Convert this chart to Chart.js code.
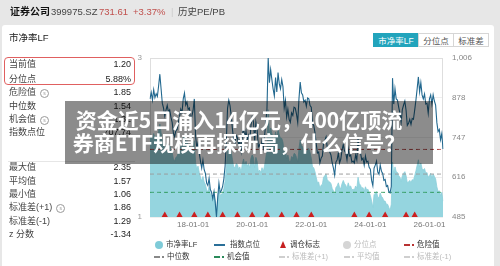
<!DOCTYPE html>
<html><head><meta charset="utf-8">
<script src="https://cdn.jsdelivr.net/npm/chart.js@4.4.1/dist/chart.umd.min.js"></script>
<style>
html,body{margin:0;padding:0;width:500px;height:266px;overflow:hidden;background:#e7e7e7;font-family:"Liberation Sans","Noto Sans CJK SC",sans-serif;}
#card{position:absolute;left:2px;top:25px;width:492px;height:245px;background:#fff;border-radius:3px;}
#cv{position:absolute;left:0;top:0;}
.a{position:absolute;white-space:nowrap;}
.hd{top:5px;font-size:9.5px;line-height:14px;color:#444;}
.row{position:absolute;left:9px;width:122px;height:13px;font-size:9px;line-height:13px;color:#444;}
.row .v{position:absolute;right:0;top:0;color:#222;}
.ic{display:inline-block;width:7px;height:7px;border:1px solid #999;border-radius:50%;font-size:5px;line-height:7px;text-align:center;color:#999;margin-left:4px;vertical-align:0px;}
.btn{position:absolute;top:33px;height:14px;font-size:8.5px;line-height:14px;text-align:center;color:#555;border:1px solid #d6d6d6;box-sizing:border-box;background:#fff;}
.lg{position:absolute;font-size:7.5px;line-height:10px;white-space:nowrap;color:#333;}
.lg.off{color:#bbb;}
</style></head>
<body>
<div id="card"></div>
<canvas id="cv" width="500" height="266"></canvas>

<div class="a hd" style="left:10px;color:#111;font-weight:bold;font-size:10px;">证券公司</div>
<div class="a hd" style="left:51px;">399975.SZ</div>
<div class="a hd" style="left:99px;color:#c0504d;">731.61</div>
<div class="a hd" style="left:133px;color:#c0504d;">+3.37%</div>
<div class="a hd" style="left:171px;color:#ccc;">|</div>
<div class="a hd" style="left:178px;">历史PE/PB</div>

<div class="a" style="left:9px;top:31px;font-size:9.5px;line-height:14px;color:#222;">市净率LF</div>
<div class="a" style="left:4px;top:57px;width:131px;height:28px;border:1.3px solid #e06060;border-radius:4px;box-sizing:border-box;"></div>
<div id="stats"></div>
<div class="a" style="left:8px;top:161px;width:127px;height:1px;background:#e6e6e6;"></div>

<div class="btn" style="left:373px;width:46px;background:#22a4bc;color:#fff;border-color:#22a4bc;">市净率LF</div>
<div class="btn" style="left:418px;width:36px;">分位点</div>
<div class="btn" style="left:453px;width:36px;">标准差</div>

<div id="legend"></div>

<div class="a" style="left:65px;top:101px;width:368px;height:63px;background:rgba(0,0,0,0.45);"></div>
<div class="a" style="left:65px;top:108px;width:348px;text-align:center;font-family:'Noto Sans CJK SC',sans-serif;font-weight:bold;font-size:21px;line-height:23px;color:#fff;">资金近5日涌入14亿元，400亿顶流<br>券商ETF规模再探新高，什么信号？</div>

<script>
// ---------- data ----------
const statLabels = ['当前值','分位点','危险值','中位数','机会值','指数点位','最大值','平均值','最小值','标准差(+1)','标准差(-1)','z 分数'];
const statValues = ['1.20','5.88%','1.85','1.54','1.31','707.74','2.35','1.57','1.06','1.86','1.29','-1.34'];
const statIcons  = [false,false,true,false,true,false,false,false,false,true,false,false];

const dangerVal = 1.85, medianVal = 1.54, chanceVal = 1.31;
const pbTicks = [1, 3];
const idxTickLabels = ['485','616','747','878','1,006'];
const idxMin = 485, idxMax = 1006;
const xTickLabels = ['18-01-01','20-01-01','22-01-01','24-01-01','26-01-01'];

// semi-monthly index level (指数点位)
const idx2016 = [872,893,868,902,876,889,880,915,953,905,858];
const idx2017 = [842,816,835,851,828,836,812,795,760,748,768,772,795,815,838,826,872,891,852,862,838,842,795,815];
const idx2018 = [835,872,752,712,728,695,668,645,672,640,628,596,588,612,575,566,545,568,532,485,548,596,566,572];
const idx2019 = [585,610,652,735,842,868,850,815,772,735,728,752,745,722,735,702,752,778,742,765,738,752,728,785];
const idx2020 = [812,798,735,795,772,715,722,708,735,712,748,792,838,1006,925,968,935,905,882,942,895,958,922,905];
const idx2021 = [935,912,842,868,812,838,805,795,826,818,845,842,822,795,872,927,892,885,862,868,848,875,872,850];
const idx2022 = [845,792,785,762,725,695,698,662,678,685,728,735,747,712,705,698,688,662,645,622,665,672,695,662];
const idx2023 = [675,705,722,702,695,672,708,685,688,665,668,662,688,672,742,705,695,672,678,655,685,665,668,648];
const idx2024 = [642,605,588,645,655,668,632,625,655,635,628,605,608,585,588,568,564,585,940,855,905,872,868,845];
const idx2025 = [825,795,838,852,865,835,785,792,805,788,808,805,835,868,905,944,895,925,885,872,888,855,858,825];
const idx2026 = [872,885,855,885,865,852,795,765,772,738,758,708];

// semi-monthly PB (市净率LF)
const pb2016 = [1.98,2.03,1.97,2.05,1.99,2.02,2.00,2.08,2.17,2.06,1.95];
const pb2017 = [1.91,1.85,1.90,1.93,1.88,1.90,1.85,1.81,1.73,1.70,1.75,1.76,1.81,1.85,1.90,1.88,1.98,2.03,1.94,1.96,1.90,1.91,1.81,1.85];
const pb2018 = [1.88,1.96,1.69,1.60,1.64,1.56,1.50,1.45,1.51,1.44,1.41,1.34,1.32,1.38,1.29,1.27,1.22,1.28,1.20,1.06,1.23,1.34,1.27,1.29];
const pb2019 = [1.30,1.36,1.45,1.63,1.87,1.93,1.89,1.81,1.72,1.63,1.62,1.67,1.66,1.60,1.63,1.56,1.67,1.73,1.65,1.70,1.64,1.67,1.62,1.74];
const pb2020 = [1.78,1.75,1.62,1.75,1.70,1.57,1.59,1.56,1.62,1.57,1.64,1.74,1.84,2.35,2.03,2.12,2.05,1.99,1.94,2.07,1.97,2.10,2.03,1.99];
const pb2021 = [1.99,1.94,1.79,1.85,1.73,1.78,1.71,1.69,1.76,1.74,1.80,1.79,1.75,1.69,1.86,1.97,1.90,1.88,1.83,1.85,1.80,1.86,1.86,1.81];
const pb2022 = [1.74,1.63,1.62,1.57,1.50,1.43,1.44,1.36,1.40,1.41,1.50,1.52,1.54,1.47,1.45,1.44,1.42,1.36,1.33,1.28,1.37,1.39,1.43,1.37];
const pb2023 = [1.36,1.42,1.46,1.42,1.40,1.36,1.43,1.38,1.39,1.34,1.35,1.34,1.39,1.36,1.50,1.42,1.40,1.36,1.37,1.32,1.38,1.34,1.35,1.31];
const pb2024 = [1.27,1.20,1.12,1.28,1.30,1.32,1.25,1.24,1.30,1.26,1.24,1.20,1.20,1.16,1.16,1.12,1.08,1.16,1.69,1.54,1.63,1.57,1.56,1.52];
const pb2025 = [1.50,1.45,1.52,1.55,1.57,1.52,1.43,1.44,1.46,1.43,1.47,1.46,1.52,1.58,1.65,1.72,1.63,1.68,1.61,1.59,1.61,1.55,1.56,1.50];
const pb2026 = [1.52,1.55,1.49,1.54,1.51,1.48,1.38,1.32,1.33,1.27,1.31,1.20];

const rebalanceDates = ['2017-01-16','2017-07-16','2018-01-16','2018-07-01','2019-01-01','2019-07-01','2020-01-01','2020-07-01','2021-01-01','2021-07-01','2022-01-01','2023-06-16','2023-12-16','2024-07-01','2025-03-16','2025-07-01'];

// ---------- build ----------
const dates = [];
for (let y = 2016; y <= 2026; y++) {
  for (let m = 1; m <= 12; m++) {
    for (const d of [1, 16]) {
      const s = y + '-' + String(m).padStart(2,'0') + '-' + String(d).padStart(2,'0');
      if (s >= '2016-07-16' && s <= '2026-06-16') dates.push(s);
    }
  }
}
const indexVals = [].concat(idx2016,idx2017,idx2018,idx2019,idx2020,idx2021,idx2022,idx2023,idx2024,idx2025,idx2026);
const pbVals = [].concat(pb2016,pb2017,pb2018,pb2019,pb2020,pb2021,pb2022,pb2023,pb2024,pb2025,pb2026);
const markerLevel = 0.012;

// stats panel
const statTops = [58,73,86,100,113,126,161,175,188,201,215,228];
let html = '';
statLabels.forEach((l,i)=>{
  html += '<div class="row" style="top:'+statTops[i]+'px">'+l+(statIcons[i]?'<span class="ic">s</span>':'')+'<span class="v">'+statValues[i]+'</span></div>';
});
document.getElementById('stats').innerHTML = html;

// legend
const legendItems = [
  {t:'市净率LF', x:155, y:240, k:'dot', c:'#7fcbd8'},
  {t:'指数点位', x:214, y:240, k:'line', c:'#2a6f98'},
  {t:'调仓标志', x:279, y:240, k:'tri', c:'#c62020'},
  {t:'分位点', x:343, y:240, k:'dot', c:'#d5d5d5', off:true},
  {t:'危险值', x:404, y:240, k:'dd', c:'#b83232'},
  {t:'中位数', x:154, y:252, k:'dd', c:'#888'},
  {t:'机会值', x:214, y:252, k:'dd', c:'#2a8a5a'},
  {t:'标准差(+1)', x:279, y:252, k:'dd', c:'#cfcfcf', off:true},
  {t:'平均值', x:344, y:252, k:'dd', c:'#cfcfcf', off:true},
  {t:'标准差(-1)', x:404, y:252, k:'dd', c:'#cfcfcf', off:true}
];
let lh = '';
legendItems.forEach(it=>{
  let sym = '';
  if (it.k==='dot') sym = '<span style="position:absolute;left:0;top:1px;width:8px;height:8px;border-radius:50%;background:'+it.c+'"></span>';
  if (it.k==='line') sym = '<span style="position:absolute;left:0;top:4px;width:11px;height:1.6px;background:'+it.c+'"></span>';
  if (it.k==='tri') sym = '<span style="position:absolute;left:1px;top:1px;width:0;height:0;border-left:3.5px solid transparent;border-right:3.5px solid transparent;border-bottom:7px solid '+it.c+'"></span>';
  if (it.k==='dd') sym = '<span style="position:absolute;left:0;top:4px;width:6px;height:1.5px;background:'+it.c+'"></span><span style="position:absolute;left:8px;top:4px;width:1.5px;height:1.5px;background:'+it.c+'"></span>';
  const tx = it.k==='line' ? 16 : (it.k==='dd' ? 13 : 11);
  lh += '<div class="lg'+(it.off?' off':'')+'" style="left:'+it.x+'px;top:'+it.y+'px;width:60px;height:10px;">'+sym+'<span style="position:absolute;left:'+tx+'px;top:0">'+it.t+'</span></div>';
});
document.getElementById('legend').innerHTML = lh;

// ---------- chart ----------
const frame = {
  id:'frame',
  beforeDatasetsDraw(c){
    const a = c.chartArea, g = c.ctx;
    g.save(); g.strokeStyle = '#dedede'; g.lineWidth = 1;
    g.strokeRect(Math.round(a.left)+0.5, Math.round(a.top)+0.5, Math.round(a.right-a.left)-1, Math.round(a.bottom-a.top)-1);
    g.restore();
  }
};
const fontFam = '"Liberation Sans","Noto Sans CJK SC",sans-serif';
const flat = v => dates.map(()=>v);
new Chart(document.getElementById('cv'), {
  type:'line',
  data:{labels:dates, datasets:[
    {label:'调仓标志', data:dates.map(d=>rebalanceDates.includes(d)?markerLevel:null), yAxisID:'yT', showLine:false, pointStyle:'triangle', pointRadius:3.6, pointBackgroundColor:'#cc1f1f', pointBorderWidth:0, clip:false, order:0},
    {label:'指数点位', data:indexVals, yAxisID:'yIdx', borderColor:'#22688f', borderWidth:1.1, pointRadius:0, tension:0, order:1},
    {label:'危险值', data:flat(dangerVal), yAxisID:'yPB', borderColor:'#a83a3a', borderDash:[4,3], borderWidth:1, pointRadius:0, order:2},
    {label:'中位数', data:flat(medianVal), yAxisID:'yPB', borderColor:'#9a9a9a', borderDash:[4,3], borderWidth:1, pointRadius:0, order:3},
    {label:'机会值', data:flat(chanceVal), yAxisID:'yPB', borderColor:'#2f9a5c', borderDash:[4,3], borderWidth:1, pointRadius:0, order:4},
    {label:'市净率LF', data:pbVals, yAxisID:'yPB', fill:'start', backgroundColor:'#95d5df', borderColor:'#8ccfda', borderWidth:0.8, pointRadius:0, tension:0, order:5}
  ]},
  options:{
    responsive:false, animation:false, devicePixelRatio:1,
    layout:{padding:{top:58,left:0,right:0,bottom:0}},
    plugins:{legend:{display:false}, tooltip:{enabled:false}},
    scales:{
      x:{type:'category', grid:{display:false, drawTicks:false}, border:{display:false},
         ticks:{autoSkip:false, maxRotation:0, padding:3, color:'#777', font:{size:8, family:fontFam},
           callback(v){ const d = this.getLabelForValue(v); const s = d.slice(2); return (d.slice(5)==='01-01' && xTickLabels.includes(s)) ? s : null; }},
         afterFit(s){ s.height = 49; }},
      yPB:{position:'left', min:1, max:3, grid:{display:false, drawTicks:false}, border:{display:false},
         afterBuildTicks(s){ s.ticks = pbTicks.map(v=>({value:v})); },
         ticks:{padding:8, color:'#999', font:{size:8, family:fontFam}},
         afterFit(s){ s.width = 150; }},
      yIdx:{position:'right', min:idxMin, max:idxMax, grid:{color:'#efefef', drawTicks:false}, border:{display:false},
         afterBuildTicks(s){ s.ticks = idxTickLabels.map((l,i)=>({value: idxMin + i*(idxMax-idxMin)/(idxTickLabels.length-1)})); },
         ticks:{padding:9, color:'#888', font:{size:8, family:fontFam}, callback:(v,i)=>idxTickLabels[i]},
         afterFit(s){ s.width = 57; }},
      yT:{display:false, min:0, max:1}
    }
  },
  plugins:[frame]
});
</script>
</body></html>
